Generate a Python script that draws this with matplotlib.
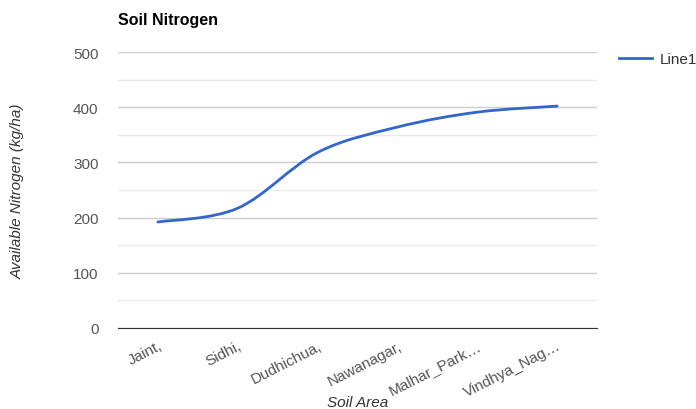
import numpy as np
import matplotlib
matplotlib.use('Agg')
import matplotlib.pyplot as plt
from matplotlib.path import Path
from matplotlib.patches import PathPatch
from matplotlib.lines import Line2D

plt.rcParams['font.family'] = ['Liberation Sans', 'DejaVu Sans']

areas = ['Jaint,', 'Sidhi,', 'Dudhichua,', 'Nawanagar,', 'Malhar_Park…', 'Vindhya_Nag…']
nitrogen = [192, 217, 318, 364, 391, 402]

line_color = '#3366cc'

fig = plt.figure(figsize=(6.96, 4.10), dpi=100)
ax = fig.add_axes([0.1695, 0.1976, 0.6883, 0.6731])

x = np.arange(len(areas))
y = np.array(nitrogen, dtype=float)

# smooth curve through the points (cardinal spline as bezier segments)
verts = [(x[0], y[0])]
codes = [Path.MOVETO]
k = 1 / 6
for i in range(len(x) - 1):
    x0, y0 = (x[i - 1], y[i - 1]) if i > 0 else (x[i], y[i])
    x3, y3 = (x[i + 2], y[i + 2]) if i + 2 < len(x) else (x[i + 1], y[i + 1])
    c1 = (x[i] + (x[i + 1] - x0) * k, y[i] + (y[i + 1] - y0) * k)
    c2 = (x[i + 1] - (x3 - x[i]) * k, y[i + 1] - (y3 - y[i]) * k)
    verts += [c1, c2, (x[i + 1], y[i + 1])]
    codes += [Path.CURVE4] * 3
ax.add_patch(PathPatch(Path(verts, codes), facecolor='none', edgecolor=line_color,
                       lw=2, capstyle='round', joinstyle='round', zorder=3))

ax.set_xlim(-0.5, len(areas) - 0.5)
ax.set_ylim(0, 500)
ax.set_yticks([0, 100, 200, 300, 400, 500])
ax.set_yticks([50, 150, 250, 350, 450], minor=True)
ax.grid(axis='y', which='major', color='#cccccc', lw=1)
ax.grid(axis='y', which='minor', color='#ebebeb', lw=1)
ax.set_axisbelow(True)
for s in ['top', 'right', 'left']:
    ax.spines[s].set_visible(False)
ax.spines['bottom'].set_color('#333333')
ax.tick_params(axis='both', which='both', length=0, labelsize=11, colors='#555555')
ax.tick_params(axis='y', pad=14)
ax.set_xticks(x)
ax.set_xticklabels(areas, rotation=27, ha='right', rotation_mode='anchor', fontsize=11)
ax.tick_params(axis='x', pad=7.5)

ax.set_xlabel('Soil Area', style='italic', fontsize=11, color='#333333')
ax.xaxis.set_label_coords(0.5, -0.268)
ax.xaxis.label.set_va('center')
ax.set_ylabel('Available Nitrogen (kg/ha)', style='italic', fontsize=11, color='#333333')
ax.yaxis.set_label_coords(-0.209, 0.5)
ax.yaxis.label.set_va('center')
fig.text(118 / 696, 1 - 20 / 410, 'Soil Nitrogen', fontsize=11.5, fontweight='bold',
         color='#000000', va='center', ha='left')

fig.legend(handles=[Line2D([], [], color=line_color, lw=2)], labels=['Line1'],
           loc='center left', bbox_to_anchor=(605 / 696, 1 - 60 / 410), frameon=False,
           handlelength=2.2, fontsize=11, labelcolor='#333333', handletextpad=0.5)

fig.savefig('out.png', dpi=100)
